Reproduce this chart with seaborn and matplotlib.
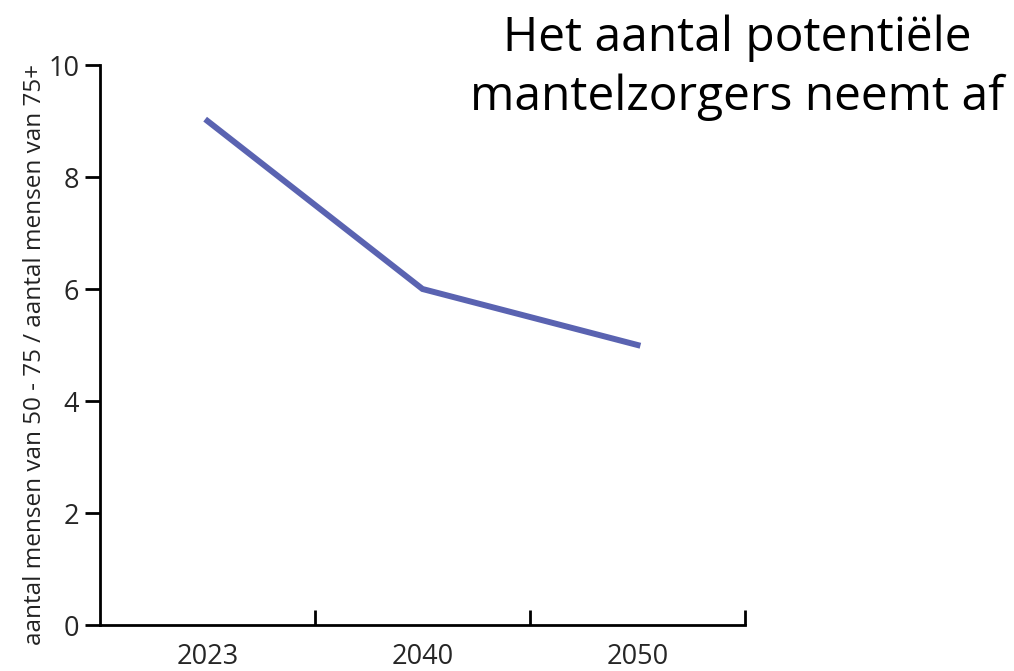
import pandas as pd
import numpy as np
import matplotlib
matplotlib.use("Agg")
import matplotlib.pyplot as plt
from matplotlib.ticker import FixedLocator
import seaborn as sns


jaren = ["2023", "2040", "2050"]
verhouding = [9.0, 6.0, 5.0]
y_ticks = [0, 2, 4, 6, 8, 10]


def main():
    sns.set_style("ticks")
    plt.rcParams['font.family'] = ['Open Sans', 'DejaVu Sans']

    df = pd.DataFrame({"jaar": jaren, "verhouding": verhouding})

    fig = plt.figure(figsize=(10.14, 6.71), dpi=100)
    ax = fig.add_axes([100/1014, 46/671, 645/1014, 560/671])

    sns.lineplot(data=df, x="jaar", y="verhouding", ax=ax, color="#5a63b1",
                 linewidth=4.3, sort=False)
    for ln in ax.get_lines():
        ln.set_solid_capstyle("projecting")
        ln.set_solid_joinstyle("miter")

    ax.set_xlim(-0.5, len(jaren) - 0.5)
    ax.set_ylim(0, 10)
    ax.set_yticks(y_ticks)
    ax.set_xticks(range(len(jaren)))
    ax.set_xticklabels(jaren)
    ax.xaxis.set_minor_locator(FixedLocator(np.arange(0.5, len(jaren), 1.0)))

    ax.tick_params(axis="x", which="major", length=0, pad=13, labelsize=19.5)
    ax.tick_params(axis="x", which="minor", direction="in", length=11, width=2, color="black")
    ax.tick_params(axis="y", direction="out", length=11, width=2, pad=4, labelsize=19.5, color="black")

    for s in ["top", "right"]:
        ax.spines[s].set_visible(False)
    for s in ["left", "bottom"]:
        ax.spines[s].set_linewidth(2)
        ax.spines[s].set_color("black")

    ax.set_xlabel("")
    ax.set_ylabel("aantal mensen van 50 - 75 / aantal mensen van 75+", fontsize=17.5,
                  color="#222222")
    ax.yaxis.set_label_coords(-0.082, 0.483)

    fig.text(0.727, 0.978, "Het aantal potentiële\nmantelzorgers neemt af", ha="center",
             va="top", fontsize=34.5, linespacing=1.32, color="black")

    fig.savefig("out.png", dpi=100)


if __name__ == "__main__":
    main()
